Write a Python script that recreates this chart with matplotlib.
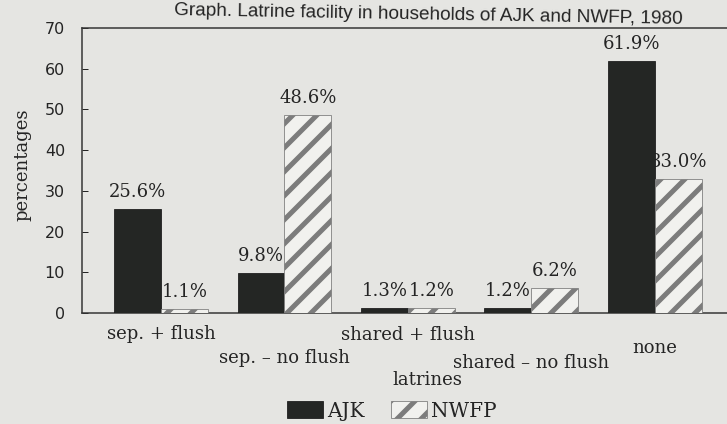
import numpy as np
import matplotlib.pyplot as plt

# latrine facility, percent of households
categories = ['sep. + flush', 'sep. \u2013 no flush', 'shared + flush',
              'shared \u2013 no flush', 'none']
ajk = [25.6, 9.8, 1.3, 1.2, 61.9]
nwfp = [1.1, 48.6, 1.2, 6.2, 33.0]
yticks = [0, 10, 20, 30, 40, 50, 60, 70]

title = 'Graph. Latrine facility in households of AJK and NWFP, 1980'

plt.rcParams['font.family'] = 'DejaVu Serif'
plt.rcParams['hatch.linewidth'] = 5
plt.rcParams['hatch.color'] = '#7c7c7c'

paper = '#e5e5e2'
ink = '#242424'

W, H = 727, 424
fig = plt.figure(figsize=(W / 72, H / 72), dpi=72)
fig.patch.set_facecolor(paper)
ax = fig.add_axes([82 / W, 1 - 313 / H, 1 - 82 / W, (313 - 28) / H])
ax.set_facecolor(paper)

x = np.arange(len(categories))
w = 0.38
b1 = ax.bar(x - w / 2, ajk, w, color='#242624', edgecolor='#1a1a1a',
            linewidth=0.8, zorder=3, label='AJK')
b2 = ax.bar(x + w / 2, nwfp, w, color='#f1f1ee', edgecolor='#7c7c7c',
            hatch='/', linewidth=0.8, zorder=3, label='NWFP')

# value labels sit just above each bar (bars drawn over them)
for xs, vals in ((x - w / 2, ajk), (x + w / 2, nwfp)):
    for xi, v in zip(xs, vals):
        ax.annotate(f'{v:.1f}%', (xi, v), xytext=(0, 12), textcoords='offset points',
                    ha='center', va='baseline', fontsize=18, color=ink, zorder=2)

ax.set_xlim(-0.64, 4.585)
ax.set_ylim(0, 70)
ax.set_yticks(yticks)
ax.tick_params(axis='y', direction='in', length=6, width=1, pad=17,
               labelsize=16, colors=ink, labelfontfamily='DejaVu Sans')
ax.set_xticks([])

for s in ('top', 'left', 'bottom'):
    ax.spines[s].set_color('#333333')
    ax.spines[s].set_linewidth(1.5)
ax.spines['right'].set_visible(False)

# staggered category names under the groups
drops = [21, 45, 22, 50, 35]
for xi, name, d in zip(x, categories, drops):
    ax.annotate(name, (xi, 0), xycoords=ax.get_xaxis_transform(),
                xytext=(0, -d), textcoords='offset points',
                ha='center', va='center', fontsize=18, color=ink)

fig.text(22 / W, 1 - 165 / H, 'percentages', rotation=90, ha='center',
         va='center', fontsize=18, color=ink)
fig.text(427 / W, 1 - 380 / H, 'latrines', ha='center', va='center',
         fontsize=18, color=ink)
fig.text(428 / W, 1 - 15 / H, title, ha='center', va='center', rotation=-1,
         rotation_mode='anchor', family='Liberation Sans', fontsize=19, color=ink)

fig.legend(handles=[b1, b2], loc='center', bbox_to_anchor=(392 / W, 1 - 411 / H),
           ncol=2, frameon=False, fontsize=20, handlelength=1.8, handleheight=0.9,
           handletextpad=0.2, columnspacing=1.3, labelcolor=ink)

fig.savefig('out.png', dpi=72, facecolor=paper)
